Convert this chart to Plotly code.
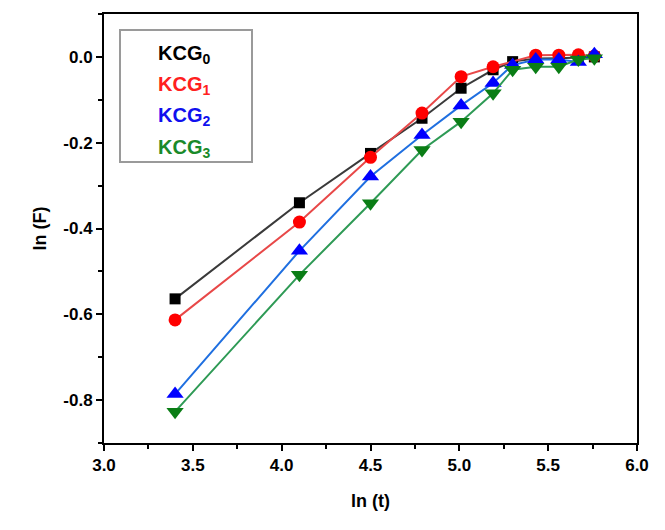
import plotly.graph_objects as go

# Data
x_kcg0 = [3.40, 4.10, 4.50, 4.79, 5.01, 5.19, 5.30, 5.43, 5.56, 5.67, 5.76]
y_kcg0 = [-0.564, -0.340, -0.225, -0.143, -0.073, -0.030, -0.011, -0.004, -0.003, -0.002, 0.000]

x_kcg1 = [3.40, 4.10, 4.50, 4.79, 5.01, 5.19, 5.43, 5.56, 5.67, 5.76]
y_kcg1 = [-0.613, -0.385, -0.234, -0.131, -0.046, -0.023, 0.004, 0.004, 0.005, 0.002]

x_kcg2 = [3.40, 4.10, 4.50, 4.79, 5.01, 5.19, 5.30, 5.43, 5.56, 5.67, 5.76]
y_kcg2 = [-0.786, -0.452, -0.279, -0.182, -0.113, -0.061, -0.019, -0.006, -0.006, -0.012, 0.006]

x_kcg3 = [3.40, 4.10, 4.50, 4.79, 5.01, 5.19, 5.30, 5.43, 5.56, 5.67, 5.76]
y_kcg3 = [-0.827, -0.508, -0.341, -0.217, -0.151, -0.085, -0.030, -0.023, -0.023, -0.006, -0.003]

series_names = ["KCG<sub>0</sub>", "KCG<sub>1</sub>", "KCG<sub>2</sub>", "KCG<sub>3</sub>"]
x_ticks = [3.0, 3.5, 4.0, 4.5, 5.0, 5.5, 6.0]
y_ticks = [0.0, -0.2, -0.4, -0.6, -0.8]

styles = [
    dict(lc="#3a3a3a", mc="#000000", tc="#000000", sym="square", size=11),
    dict(lc="#e84848", mc="#ff0000", tc="#ff2020", sym="circle", size=13),
    dict(lc="#1f6fe0", mc="#0000ff", tc="#1010ee", sym="triangle-up", size=15),
    dict(lc="#2e9a55", mc="#0a7d15", tc="#1a8a2a", sym="triangle-down", size=15),
]
xs = [x_kcg0, x_kcg1, x_kcg2, x_kcg3]
ys = [y_kcg0, y_kcg1, y_kcg2, y_kcg3]

fig = go.Figure()
for xv, yv, st, nm in zip(xs, ys, styles, series_names):
    fig.add_trace(go.Scatter(
        x=xv, y=yv, mode="lines+markers", name=nm, showlegend=False,
        line=dict(color=st["lc"], width=2),
        marker=dict(symbol=st["sym"], size=st["size"], color=st["mc"], line=dict(width=0)),
    ))

font_family = "Liberation Sans, Arial, sans-serif"
tick_font = dict(size=17, family=font_family, color="black", weight="bold")
title_font = dict(size=18, family=font_family, color="black", weight="bold")

fig.update_layout(
    width=665, height=530,
    margin=dict(l=104, r=28, t=14, b=87),
    paper_bgcolor="white", plot_bgcolor="white",
    font=dict(family=font_family, color="black", size=17),
    xaxis=dict(
        range=[3.0, 6.0], tickvals=x_ticks, ticktext=[f"{v:.1f}" for v in x_ticks],
        ticks="outside", ticklen=6, tickwidth=2, tickcolor="black",
        minor=dict(dtick=0.25, tick0=3.0, ticks="outside", ticklen=4, tickwidth=1.5, tickcolor="black", showgrid=False),
        showline=True, linecolor="black", linewidth=2, mirror=True,
        showgrid=False, zeroline=False,
        tickfont=tick_font,
        title=dict(text="ln (t)", font=title_font, standoff=20),
    ),
    yaxis=dict(
        range=[-0.9, 0.1], tickvals=y_ticks, ticktext=[f"{v:.1f}" for v in y_ticks],
        ticks="outside", ticklen=6, tickwidth=2, tickcolor="black",
        minor=dict(dtick=0.1, tick0=0.0, ticks="outside", ticklen=4, tickwidth=1.5, tickcolor="black", showgrid=False),
        showline=True, linecolor="black", linewidth=2, mirror=True,
        showgrid=False, zeroline=False,
        tickfont=tick_font,
        title=dict(text="ln (F)", font=title_font, standoff=12),
    ),
)

# Legend box drawn as shape + coloured text annotations
fig.add_shape(type="rect", xref="paper", yref="paper",
              x0=(120 - 104) / 533, x1=(252 - 104) / 533,
              y0=1 - (162 - 14) / 429, y1=1 - (30 - 14) / 429,
              line=dict(color="#9a9a9a", width=2), fillcolor="white", layer="above")
legend_y = [55, 86, 117, 148]
for nm, st, py in zip(series_names, styles, legend_y):
    fig.add_annotation(xref="paper", yref="paper",
                       x=(156 - 104) / 533, y=1 - (py - 14) / 429,
                       xanchor="left", yanchor="middle", showarrow=False,
                       text=nm,
                       font=dict(size=20, family=font_family, color=st["tc"], weight="bold"))

fig.write_html("out.html")
